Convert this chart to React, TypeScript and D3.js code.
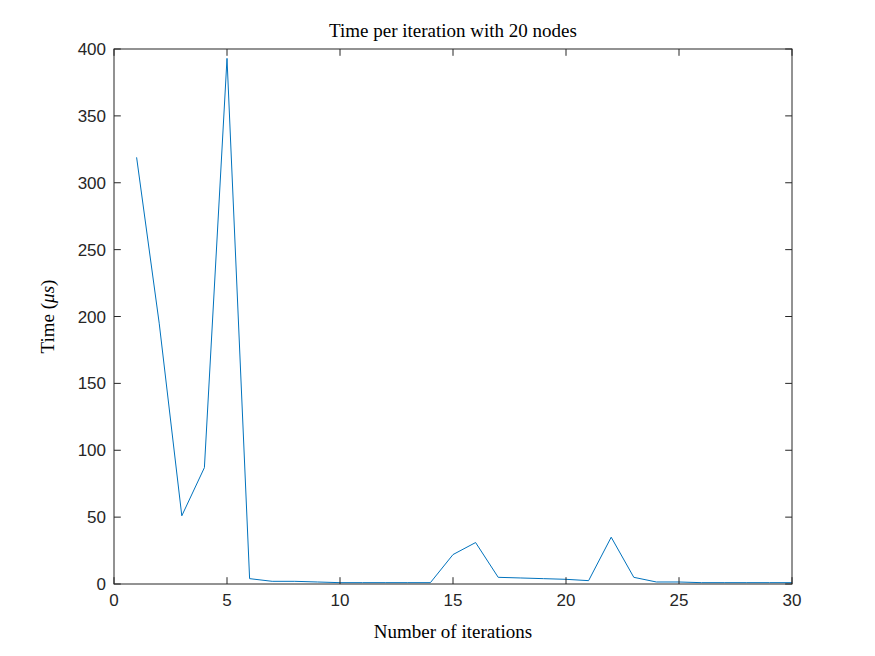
import React from "react";
import * as d3 from "d3";

const iterations = d3.range(1, 31);
const times = [319, 195, 51, 87, 393, 4, 2, 2, 1.5, 1, 1, 1, 1, 1, 22, 31, 5, 4.5, 4, 3.5, 2.5, 35, 5, 1.5, 1.5, 1, 1, 1, 1, 1];
const xTicks = [0, 5, 10, 15, 20, 25, 30];
const yTicks = [0, 50, 100, 150, 200, 250, 300, 350, 400];

export default function App() {
  const W = 875, H = 656;
  const L = 114, R = 792, T = 49, B = 584;
  const x = d3.scaleLinear().domain([0, 30]).range([L, R]);
  const y = d3.scaleLinear().domain([0, 400]).range([B, T]);
  const line = d3.line<number>().x((_, i) => x(iterations[i])).y(d => y(d));
  const c = "#262626";
  const tl = 6.8;
  return (
    <svg width={W} height={H} style={{ position: "absolute", left: 0, top: 0, background: "#fff" }}>
      <rect x={0} y={0} width={W} height={H} fill="#fff" />
      <path d={line(times) || ""} fill="none" stroke="#0072BD" strokeWidth={1} />
      <rect x={L} y={T} width={R - L} height={B - T} fill="none" stroke={c} strokeWidth={1} />
      {xTicks.map(t => (
        <g key={"x" + t}>
          <line x1={x(t)} x2={x(t)} y1={B} y2={B - tl} stroke={c} />
          <line x1={x(t)} x2={x(t)} y1={T} y2={T + tl} stroke={c} />
          <text x={x(t)} y={B + 22} textAnchor="middle" fontFamily="Liberation Sans, Arial" fontSize={17} fill={c}>{t}</text>
        </g>
      ))}
      {yTicks.map(t => (
        <g key={"y" + t}>
          <line x1={L} x2={L + tl} y1={y(t)} y2={y(t)} stroke={c} />
          <line x1={R} x2={R - tl} y1={y(t)} y2={y(t)} stroke={c} />
          <text x={L - 8} y={y(t) + 6} textAnchor="end" fontFamily="Liberation Sans, Arial" fontSize={17} fill={c}>{t}</text>
        </g>
      ))}
      <text x={(L + R) / 2} y={37} textAnchor="middle" fontFamily="Liberation Serif, DejaVu Serif" fontSize={19} fill="#000">Time per iteration with 20 nodes</text>
      <text x={(L + R) / 2} y={638} textAnchor="middle" fontFamily="Liberation Serif, DejaVu Serif" fontSize={19} fill="#000">Number of iterations</text>
      <text transform={`translate(54,${(T + B) / 2}) rotate(-90)`} textAnchor="middle" fontFamily="Liberation Serif, DejaVu Serif" fontSize={19} fill="#000">
        Time (<tspan fontStyle="italic">μs</tspan>)
      </text>
    </svg>
  );
}
